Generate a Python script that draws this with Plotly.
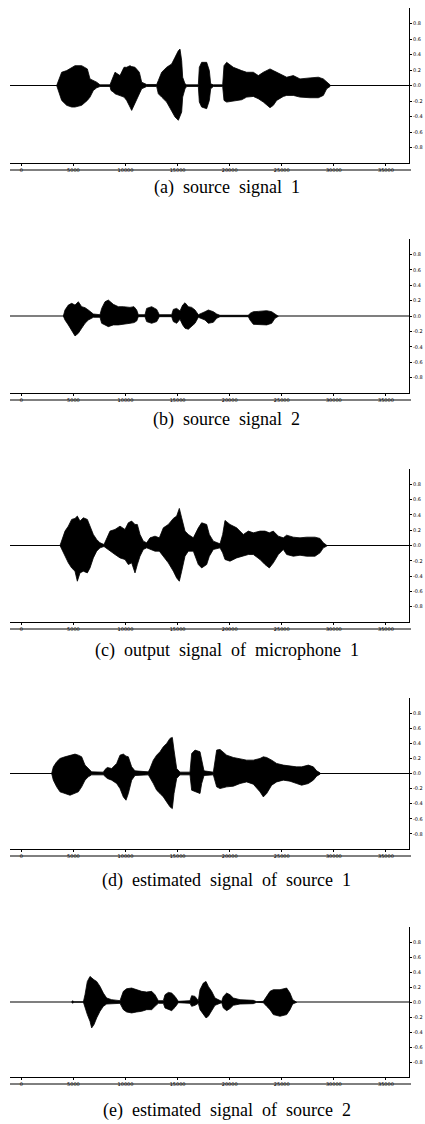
import plotly.graph_objects as go

# ---------------- data (sample index, upper / lower envelope amplitude) ----------------
X_MIN, X_MAX = -1088, 37216
X_TICKS = [0, 5000, 10000, 15000, 20000, 25000, 30000, 35000]
Y_TICKS = [0.8, 0.6, 0.4, 0.2, 0.0, -0.2, -0.4, -0.6, -0.8]

CAPTIONS = ["(a)  source  signal  1",
            "(b)  source  signal  2",
            "(c)  output  signal  of  microphone  1",
            "(d)  estimated  signal  of  source  1",
            "(e)  estimated  signal  of  source  2"]

A_T = [3392, 3552, 3872, 4352, 4832, 5152, 5792, 6336, 6592, 6912, 7232, 7552, 8512, 8608, 8832, 8992,
       9472, 9856, 10112, 10432, 10592, 10912, 11328, 11552, 12032, 12992, 13152, 13472, 13952, 14432,
       14752, 15072, 15232, 15392, 15488, 15712, 15872, 16992, 17088, 17312, 17792, 18048, 18176, 18432,
       19328, 19456, 19712, 20352, 21152, 21632, 22272, 22752, 23232, 23872, 24192, 24512, 25152, 25472,
       26112, 26752, 27712, 28512, 28992, 29312, 29632]
A_UP = [0, 0.064, 0.171, 0.192, 0.235, 0.256, 0.256, 0.214, 0.085, 0.064, 0.043, 0.009, 0.009, 0.043, 0.107, 0.171,
        0.128, 0.235, 0.235, 0.256, 0.244, 0.235, 0.171, 0.043, 0.013, 0.013, 0.064, 0.171, 0.235, 0.278,
        0.363, 0.449, 0.470, 0.321, 0.107, 0.021, 0.009, 0.009, 0.235, 0.299, 0.299, 0.192, 0.021, 0.009,
        0.009, 0.256, 0.299, 0.235, 0.192, 0.171, 0.171, 0.128, 0.171, 0.214, 0.192, 0.171, 0.128, 0.107,
        0.128, 0.085, 0.098, 0.107, 0.085, 0.043, 0.009]
A_LO = [0, -0.043, -0.192, -0.256, -0.278, -0.278, -0.256, -0.192, -0.150, -0.064, -0.030, -0.013, -0.013, -0.064, -0.085, -0.107,
        -0.128, -0.150, -0.192, -0.278, -0.321, -0.235, -0.107, -0.043, -0.013, -0.013, -0.107, -0.150, -0.214, -0.321,
        -0.406, -0.449, -0.406, -0.342, -0.150, -0.043, -0.013, -0.013, -0.214, -0.278, -0.299, -0.192, -0.043, -0.013,
        -0.013, -0.192, -0.214, -0.201, -0.184, -0.150, -0.141, -0.171, -0.214, -0.286, -0.256, -0.192, -0.141, -0.128,
        -0.128, -0.150, -0.158, -0.158, -0.128, -0.043, -0.013]

B_T = [4032, 4192, 4512, 4832, 5152, 5472, 5792, 6112, 6432, 6912, 7552, 7712, 8032, 8352, 8832, 9312,
       9792, 10432, 10816, 11072, 11232, 11872, 12032, 12512, 12992, 13248, 14432, 14592, 14912, 15232,
       15488, 15712, 16032, 16352, 16672, 16992, 17632, 17952, 18432, 18752, 19072, 21792, 21952, 22272,
       22752, 23552, 24032, 24352, 24672]
B_UP = [0, 0.078, 0.142, 0.164, 0.142, 0.185, 0.121, 0.108, 0.078, 0.026, 0.017, 0.099, 0.185, 0.207, 0.151, 0.121,
        0.121, 0.112, 0.121, 0.078, 0.017, 0.017, 0.099, 0.121, 0.086, 0.017, 0.017, 0.086, 0.099, 0.065,
        0.142, 0.172, 0.121, 0.112, 0.078, 0.017, 0.056, 0.078, 0.056, 0.026, 0.009, 0.009, 0.034, 0.056,
        0.060, 0.069, 0.056, 0.026, 0.004]
B_LO = [0, -0.052, -0.116, -0.181, -0.259, -0.224, -0.159, -0.095, -0.052, -0.017, -0.017, -0.095, -0.116, -0.138, -0.116, -0.116,
        -0.108, -0.095, -0.086, -0.065, -0.009, -0.009, -0.073, -0.095, -0.073, -0.009, -0.009, -0.073, -0.095, -0.043,
        -0.116, -0.159, -0.172, -0.138, -0.095, -0.017, -0.052, -0.095, -0.082, -0.030, -0.009, -0.009, -0.052, -0.108,
        -0.116, -0.116, -0.095, -0.030, -0.004]

C_T = [3712, 3872, 4192, 4512, 4832, 5152, 5376, 5632, 5952, 6336, 6592, 6912, 7232, 7552, 7936, 8192,
       8512, 8992, 9472, 9952, 10272, 10592, 10912, 11136, 11392, 11712, 12032, 12352, 12832, 13248,
       13632, 14112, 14592, 14912, 15168, 15392, 15712, 16032, 16512, 16992, 17312, 17792, 18048, 18432,
       19072, 19328, 19552, 20032, 20672, 21312, 21792, 22272, 22912, 23392, 23808, 24192, 24672, 25152,
       25472, 26112, 26752, 27392, 28192, 28672, 28992, 29312]
C_UP = [0, 0.057, 0.188, 0.253, 0.341, 0.354, 0.384, 0.319, 0.362, 0.341, 0.253, 0.144, 0.079, 0.035, 0.013, 0.100,
        0.188, 0.210, 0.253, 0.210, 0.297, 0.319, 0.275, 0.275, 0.144, 0.057, 0.035, 0.100, 0.122, 0.100,
        0.231, 0.275, 0.354, 0.384, 0.485, 0.362, 0.188, 0.144, 0.100, 0.231, 0.297, 0.275, 0.144, 0.057,
        0.022, 0.144, 0.328, 0.275, 0.231, 0.144, 0.188, 0.166, 0.188, 0.188, 0.166, 0.188, 0.122, 0.100,
        0.135, 0.109, 0.100, 0.109, 0.109, 0.092, 0.035, 0.004]
C_LO = [0, -0.052, -0.140, -0.227, -0.293, -0.336, -0.467, -0.358, -0.336, -0.358, -0.293, -0.162, -0.074, -0.031, -0.013, -0.039,
        -0.074, -0.118, -0.162, -0.183, -0.249, -0.227, -0.358, -0.249, -0.140, -0.052, -0.031, -0.052, -0.074, -0.074,
        -0.140, -0.227, -0.336, -0.424, -0.467, -0.336, -0.140, -0.074, -0.074, -0.249, -0.293, -0.249, -0.140, -0.052,
        -0.031, -0.096, -0.183, -0.205, -0.162, -0.140, -0.118, -0.118, -0.183, -0.249, -0.293, -0.227, -0.118, -0.052,
        -0.118, -0.140, -0.127, -0.140, -0.140, -0.096, -0.031, -0.009]

D_T = [2912, 3072, 3392, 3712, 4192, 4672, 5152, 5472, 5792, 6112, 6432, 6752, 7872, 8032, 8256, 8672,
       9152, 9472, 9792, 10048, 10272, 10592, 10912, 12192, 12352, 12672, 12992, 13312, 13632, 13952,
       14272, 14496, 14656, 14912, 15232, 16192, 16352, 16672, 17152, 17312, 17536, 18432, 18752, 19072,
       19712, 20352, 20992, 21632, 22272, 22912, 23232, 23552, 24032, 24512, 25152, 25792, 26432, 26912,
       27552, 28032, 28352, 28672]
D_UP = [0, 0.088, 0.155, 0.199, 0.221, 0.243, 0.257, 0.243, 0.221, 0.111, 0.066, 0.022, 0.018, 0.053, 0.080, 0.066,
        0.133, 0.243, 0.257, 0.230, 0.221, 0.088, 0.035, 0.022, 0.066, 0.177, 0.243, 0.288, 0.354, 0.398,
        0.465, 0.478, 0.310, 0.066, 0.018, 0.018, 0.265, 0.310, 0.288, 0.177, 0.035, 0.018, 0.310, 0.319,
        0.243, 0.212, 0.199, 0.177, 0.177, 0.199, 0.221, 0.212, 0.177, 0.133, 0.111, 0.097, 0.088, 0.088,
        0.111, 0.088, 0.035, 0.009]
D_LO = [0, -0.088, -0.177, -0.243, -0.265, -0.288, -0.265, -0.243, -0.177, -0.088, -0.044, -0.018, -0.018, -0.044, -0.066, -0.088,
        -0.133, -0.199, -0.310, -0.354, -0.265, -0.088, -0.027, -0.018, -0.066, -0.133, -0.221, -0.265, -0.310, -0.376,
        -0.442, -0.465, -0.265, -0.066, -0.018, -0.018, -0.221, -0.243, -0.265, -0.133, -0.027, -0.018, -0.177, -0.199,
        -0.177, -0.168, -0.133, -0.111, -0.142, -0.243, -0.310, -0.265, -0.155, -0.111, -0.088, -0.102, -0.133, -0.155,
        -0.133, -0.088, -0.035, -0.009]

E_T = [4832, 4928, 5024, 5952, 6112, 6336, 6592, 6752, 6976, 7232, 7552, 7872, 8192, 8672, 9472, 9792,
       10112, 10592, 11072, 11552, 12032, 12512, 12832, 13152, 13632, 13792, 14112, 14432, 14752, 15072,
       16192, 16352, 16672, 16992, 17152, 17472, 17728, 17952, 18272, 18592, 19232, 19392, 19712, 20032,
       20352, 20992, 22272, 22592, 23232, 23552, 23872, 24192, 24832, 25472, 25792, 26048, 26432]
E_UP = [0, 0.018, 0, 0, 0.097, 0.274, 0.341, 0.319, 0.296, 0.274, 0.208, 0.119, 0.053, 0.031, 0.018, 0.142,
        0.177, 0.186, 0.164, 0.142, 0.133, 0.142, 0.097, 0.018, 0.018, 0.097, 0.128, 0.119, 0.075, 0.009,
        0.018, 0.084, 0.075, 0.018, 0.164, 0.252, 0.274, 0.208, 0.142, 0.053, 0.009, 0.075, 0.119, 0.097,
        0.053, 0.031, 0.022, 0.004, 0.009, 0.075, 0.142, 0.164, 0.164, 0.186, 0.119, 0.031, 0.004]
E_LO = [0, -0.018, 0, 0, -0.080, -0.168, -0.257, -0.345, -0.301, -0.212, -0.124, -0.058, -0.027, -0.018, -0.018, -0.102,
        -0.133, -0.146, -0.133, -0.124, -0.102, -0.102, -0.058, -0.018, -0.018, -0.080, -0.102, -0.115, -0.071, -0.009,
        -0.018, -0.058, -0.044, -0.018, -0.102, -0.168, -0.212, -0.190, -0.124, -0.044, -0.009, -0.080, -0.115, -0.088,
        -0.044, -0.027, -0.022, -0.004, -0.009, -0.058, -0.102, -0.168, -0.190, -0.168, -0.102, -0.027, -0.004]

PANELS = [(A_T, A_UP, A_LO), (B_T, B_UP, B_LO), (C_T, C_UP, C_LO), (D_T, D_UP, D_LO), (E_T, E_UP, E_LO)]

# ---------------- layout geometry (pixels in a 425 x 1124 page) ----------------
W, H = 425, 1124
PLOT_LEFT, PLOT_RIGHT = 10, 409
PANEL_TOP_BOTTOM = [(8, 163), (239, 393), (469, 622), (698, 849), (927, 1077)]
CAPTION_Y = [187, 419, 650, 880, 1110]

fig = go.Figure()
layout = dict(
    width=W, height=H, margin=dict(l=0, r=0, t=0, b=0, pad=0),
    paper_bgcolor="white", plot_bgcolor="white", showlegend=False,
)
shapes, annotations = [], []
xdom = [PLOT_LEFT / W, PLOT_RIGHT / W]
tickfont = dict(size=5, color="black", family="DejaVu Sans")

for i, ((t, up, lo), (top, bot)) in enumerate(zip(PANELS, PANEL_TOP_BOTTOM)):
    n = "" if i == 0 else str(i + 1)
    xa, ya = "x" + n, "y" + n
    # zero baseline
    fig.add_trace(go.Scatter(x=[X_MIN, X_MAX], y=[0, 0], mode="lines",
                             line=dict(color="black", width=1.2), xaxis=xa, yaxis=ya,
                             hoverinfo="skip"))
    # waveform envelope
    fig.add_trace(go.Scatter(x=list(t) + list(t)[::-1], y=list(up) + list(lo)[::-1],
                             mode="lines", fill="toself", fillcolor="black",
                             line=dict(color="black", width=0.8), xaxis=xa, yaxis=ya,
                             hoverinfo="skip"))
    ydom = [1 - bot / H, 1 - top / H]
    layout["xaxis" + n] = dict(
        domain=xdom, anchor=ya, range=[X_MIN, X_MAX], tickvals=X_TICKS,
        ticktext=[str(v) for v in X_TICKS], tickfont=tickfont,
        showline=True, linecolor="black", linewidth=1, ticks="outside", ticklen=2,
        tickcolor="black", showgrid=False, zeroline=False, automargin=False,
    )
    layout["yaxis" + n] = dict(
        domain=ydom, anchor=xa, side="right", range=[-1, 1], tickvals=Y_TICKS,
        ticktext=[f"{v:.1f}" for v in Y_TICKS], tickfont=tickfont,
        showline=True, linecolor="black", linewidth=1, ticks="outside", ticklen=2,
        tickcolor="black", showgrid=False, zeroline=False, automargin=False,
    )
    # lower frame line under the tick labels
    yl = 1 - (bot + 7) / H
    shapes.append(dict(type="line", xref="paper", yref="paper", x0=PLOT_LEFT / W, x1=(PLOT_RIGHT + 2) / W,
                       y0=yl, y1=yl, line=dict(color="black", width=1)))
    annotations.append(dict(text=CAPTIONS[i], xref="paper", yref="paper", x=227 / W, y=1 - CAPTION_Y[i] / H,
                            showarrow=False, xanchor="center", yanchor="middle",
                            font=dict(family="Liberation Serif", size=18, color="black")))

layout["shapes"] = shapes
layout["annotations"] = annotations
fig.update_layout(**layout)
fig.write_html("out.html", config={"displayModeBar": False},
               post_script="document.body.style.margin='0';document.body.style.overflow='hidden';")
